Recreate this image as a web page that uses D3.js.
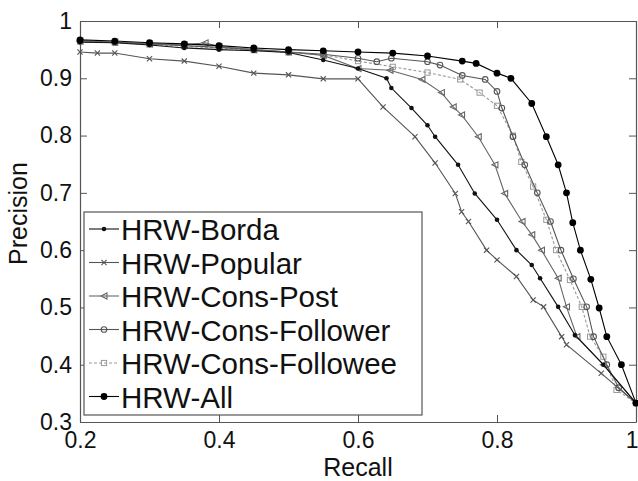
<!DOCTYPE html>
<html><head><meta charset="utf-8">
<script src="https://cdn.jsdelivr.net/npm/d3@7"></script>
<style>body{margin:0;background:#fff}svg{display:block}text{font-family:"Liberation Sans",Arial,Helvetica,sans-serif}</style>
</head><body><svg id="c" width="638" height="481"></svg>
<script>
const seriesNames = ["HRW-Borda","HRW-Popular","HRW-Cons-Post","HRW-Cons-Follower","HRW-Cons-Followee","HRW-All"];

const recallBorda    = [0.2,0.25,0.3,0.35,0.4,0.45,0.5,0.55,0.6,0.641,0.648,0.677,0.70,0.711,0.744,0.768,0.80,0.828,0.85,0.862,0.888,0.912,0.953,1.0];
const precisionBorda = [0.963,0.962,0.958,0.953,0.950,0.948,0.945,0.932,0.917,0.900,0.883,0.848,0.818,0.798,0.749,0.699,0.653,0.600,0.574,0.551,0.501,0.452,0.400,0.333];

const recallPopular    = [0.2,0.225,0.25,0.3,0.35,0.4,0.45,0.5,0.55,0.6,0.636,0.682,0.711,0.740,0.749,0.759,0.785,0.80,0.828,0.852,0.867,0.893,0.90,0.95,1.0];
const precisionPopular = [0.946,0.944,0.944,0.934,0.930,0.921,0.909,0.906,0.899,0.899,0.850,0.798,0.752,0.699,0.667,0.650,0.600,0.583,0.554,0.513,0.501,0.449,0.435,0.385,0.333];

const recallPost    = [0.2,0.25,0.3,0.35,0.38,0.4,0.45,0.5,0.55,0.6,0.646,0.692,0.72,0.737,0.749,0.773,0.797,0.811,0.836,0.85,0.864,0.888,0.90,0.915,0.953,1.0];
const precisionPost = [0.965,0.963,0.960,0.958,0.962,0.955,0.950,0.946,0.940,0.917,0.914,0.898,0.875,0.850,0.836,0.798,0.749,0.699,0.650,0.627,0.600,0.551,0.501,0.449,0.400,0.333];

const recallFollower    = [0.2,0.25,0.3,0.35,0.4,0.45,0.5,0.55,0.6,0.627,0.648,0.70,0.718,0.75,0.783,0.80,0.807,0.823,0.84,0.858,0.877,0.892,0.91,0.929,0.939,0.958,0.975,1.0];
const precisionFollower = [0.965,0.963,0.960,0.957,0.954,0.950,0.946,0.942,0.935,0.929,0.935,0.929,0.923,0.905,0.898,0.877,0.848,0.798,0.749,0.700,0.650,0.600,0.550,0.501,0.449,0.400,0.360,0.333];

const recallFollowee    = [0.2,0.25,0.3,0.35,0.4,0.45,0.5,0.55,0.6,0.65,0.70,0.747,0.775,0.80,0.823,0.835,0.852,0.871,0.885,0.905,0.922,0.934,0.953,0.972,1.0];
const precisionFollowee = [0.964,0.962,0.959,0.956,0.953,0.949,0.945,0.941,0.930,0.920,0.910,0.898,0.875,0.852,0.800,0.754,0.711,0.653,0.600,0.548,0.501,0.449,0.414,0.356,0.333];

const recallAll    = [0.2,0.25,0.3,0.35,0.4,0.45,0.5,0.55,0.6,0.65,0.7,0.75,0.77,0.8,0.82,0.85,0.871,0.888,0.9,0.909,0.92,0.935,0.947,0.958,0.979,1.0];
const precisionAll = [0.967,0.965,0.962,0.960,0.957,0.953,0.950,0.948,0.946,0.944,0.939,0.930,0.926,0.909,0.900,0.856,0.798,0.749,0.700,0.648,0.600,0.549,0.499,0.449,0.400,0.333];

const xTickValues = [0.2,0.4,0.6,0.8,1];
const xTickLabels = ["0.2","0.4","0.6","0.8","1"];
const yTickValues = [0.3,0.4,0.5,0.6,0.7,0.8,0.9,1];
const yTickLabels = ["0.3","0.4","0.5","0.6","0.7","0.8","0.9","1"];
const xTitle = "Recall", yTitle = "Precision";

const recalls = [recallBorda,recallPopular,recallPost,recallFollower,recallFollowee,recallAll];
const precisions = [precisionBorda,precisionPopular,precisionPost,precisionFollower,precisionFollowee,precisionAll];

const styles = [
  {color:"#111", dash:null, marker:"dot", size:2.3},
  {color:"#555", dash:null, marker:"x", size:2.6},
  {color:"#666", dash:null, marker:"tri", size:3},
  {color:"#555", dash:null, marker:"ocircle", size:2.8},
  {color:"#999", dash:"3,2", marker:"square", size:2.6},
  {color:"#000", dash:null, marker:"dot", size:3.4}
];

const L = 80, R = 636, T = 21, B = 422;
const svg = d3.select("#c");
const x = d3.scaleLinear().domain([0.2,1]).range([L,R]);
const y = d3.scaleLinear().domain([0.3,1]).range([B,T]);

const axisColor = "#555";
function styleAxis(g){
  g.selectAll("path.domain").attr("stroke",axisColor).attr("stroke-width",1.2);
  g.selectAll(".tick line").attr("stroke",axisColor);
  g.selectAll("text").attr("fill","#111").attr("font-size",23).attr("font-family",'"Liberation Sans",Arial,sans-serif');
}
const xAxisG = svg.append("g").attr("transform",`translate(0,${B})`)
  .call(d3.axisBottom(x).tickValues(xTickValues).tickFormat((d,i)=>xTickLabels[i]).tickSizeInner(-7).tickSizeOuter(0).tickPadding(10))
  .call(styleAxis);
// keep the last label ("1") inside the picture edge
xAxisG.selectAll(".tick text").filter(d=>d===1).attr("text-anchor","end").attr("dx",2);

svg.append("g").attr("transform",`translate(${L},0)`)
  .call(d3.axisLeft(y).tickValues(yTickValues).tickFormat((d,i)=>yTickLabels[i]).tickSizeInner(-7).tickSizeOuter(0).tickPadding(8))
  .call(styleAxis);
svg.append("g").attr("transform",`translate(0,${T})`)
  .call(d3.axisTop(x).tickValues(xTickValues).tickFormat("").tickSizeInner(-7).tickSizeOuter(0))
  .call(styleAxis);
svg.append("g").attr("transform",`translate(${R},0)`)
  .call(d3.axisRight(y).tickValues(yTickValues).tickFormat("").tickSizeInner(-7).tickSizeOuter(0))
  .call(styleAxis);

svg.append("text").attr("x",(L+R)/2).attr("y",476).attr("text-anchor","middle")
  .attr("font-size",25).attr("fill","#111").text(xTitle);
svg.append("text").attr("transform",`translate(27,${(T+B)/2 - 8}) rotate(-90)`).attr("text-anchor","middle")
  .attr("font-size",25).attr("fill","#111").text(yTitle);

function drawMarker(g, cx, cy, st){
  const s = st.size;
  if (st.marker==="dot") g.append("circle").attr("cx",cx).attr("cy",cy).attr("r",s).attr("fill",st.color);
  else if (st.marker==="ocircle") g.append("circle").attr("cx",cx).attr("cy",cy).attr("r",s).attr("fill","none").attr("stroke",st.color).attr("stroke-width",1.1);
  else if (st.marker==="x") g.append("path").attr("d",`M${cx-s},${cy-s}L${cx+s},${cy+s}M${cx-s},${cy+s}L${cx+s},${cy-s}`).attr("stroke",st.color).attr("stroke-width",1.1);
  else if (st.marker==="tri") g.append("path").attr("d",`M${cx-s},${cy}L${cx+s},${cy-s}L${cx+s},${cy+s}Z`).attr("fill","none").attr("stroke",st.color).attr("stroke-width",1.1);
  else if (st.marker==="square") g.append("rect").attr("x",cx-s).attr("y",cy-s).attr("width",2*s).attr("height",2*s).attr("fill","none").attr("stroke",st.color).attr("stroke-width",1);
}

const line = d3.line().x(d=>x(d[0])).y(d=>y(d[1]));
const plot = svg.append("g");
const order = [4,3,2,1,0,5];
order.forEach(i=>{
  const pts = recalls[i].map((r,j)=>[r,precisions[i][j]]);
  const st = styles[i];
  const g = plot.append("g");
  g.append("path").attr("d",line(pts)).attr("fill","none").attr("stroke",st.color)
    .attr("stroke-width",1.1).attr("stroke-dasharray",st.dash);
  pts.forEach(p=>drawMarker(g,x(p[0]),y(p[1]),st));
});

// legend
const lg = svg.append("g");
lg.append("rect").attr("x",84).attr("y",212).attr("width",338).attr("height",203)
  .attr("fill","#fff").attr("stroke",axisColor).attr("stroke-width",1.2);
seriesNames.forEach((name,i)=>{
  const yy = 240 + i*33.5;
  const st = styles[i];
  const g = lg.append("g");
  g.append("line").attr("x1",89).attr("x2",119).attr("y1",yy-11).attr("y2",yy-11)
    .attr("stroke",st.color).attr("stroke-width",1.1).attr("stroke-dasharray",st.dash);
  drawMarker(g,104,yy-11,st);
  g.append("text").attr("x",121).attr("y",yy).attr("font-size",29.5).attr("fill","#111").text(name);
});
</script></body></html>
